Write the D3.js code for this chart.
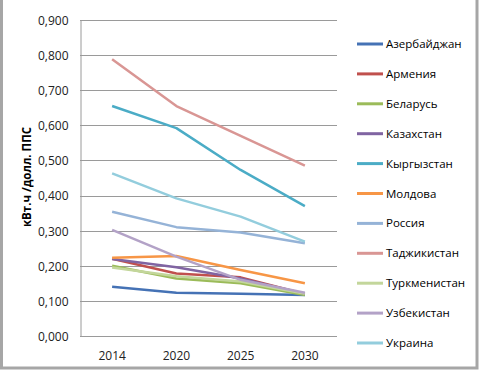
<!DOCTYPE html>
<html>
<head>
<meta charset="utf-8">
<script src="https://cdnjs.cloudflare.com/ajax/libs/d3/7.8.5/d3.min.js"></script>
<style>
  body { margin: 0; background: #fff; }
  text { font-family: "Open Sans", "Noto Sans", sans-serif; fill: #000; }
</style>
</head>
<body>
<script>
// categories and series
var years = ['2014', '2020', '2025', '2030'];
var countries = ['Азербайджан', 'Армения', 'Беларусь', 'Казахстан', 'Кыргызстан', 'Молдова',
                 'Россия', 'Таджикистан', 'Туркменистан', 'Узбекистан', 'Украина'];
var azerbaijan   = [0.140, 0.123, 0.120, 0.117];
var armenia      = [0.220, 0.178, 0.167, 0.120];
var belarus      = [0.200, 0.164, 0.150, 0.117];
var kazakhstan   = [0.219, 0.196, 0.164, 0.120];
var kyrgyzstan   = [0.655, 0.592, 0.473, 0.370];
var moldova      = [0.223, 0.228, 0.188, 0.150];
var russia       = [0.354, 0.310, 0.295, 0.264];
var tajikistan   = [0.788, 0.655, 0.570, 0.485];
var turkmenistan = [0.195, 0.170, 0.155, 0.120];
var uzbekistan   = [0.302, 0.226, 0.160, 0.123];
var ukraine      = [0.463, 0.392, 0.340, 0.269];
var yTicks = [0, 0.1, 0.2, 0.3, 0.4, 0.5, 0.6, 0.7, 0.8, 0.9];

var seriesValues = [azerbaijan, armenia, belarus, kazakhstan, kyrgyzstan, moldova,
                    russia, tajikistan, turkmenistan, uzbekistan, ukraine];
var colors = ['#4572b5', '#c0504d', '#9bbb59', '#8064a2', '#4bacc6', '#f79646',
              '#95b3d7', '#d99694', '#c3d69b', '#b3a2c7', '#93cddd'];

var W = 479, H = 378;
var plot = {left: 80, right: 337, top: 20, bottom: 336};

var svg = d3.select('body')
    .append('svg')
    .attr('width', W)
    .attr('height', H);

//outer frame
svg.append('rect')
    .attr('x', 1.5).attr('y', -4)
    .attr('width', 475.5).attr('height', 372)
    .style('fill', 'none')
    .style('stroke', '#a6a6a6')
    .style('stroke-width', 3);

var x = d3.scaleBand().domain(years).range([plot.left, plot.right]);
var y = d3.scaleLinear().domain([0, 0.9]).range([plot.bottom, plot.top]);

//gridlines
svg.append('g')
    .selectAll('line')
    .data(yTicks.slice(1))
    .enter().append('line')
    .attr('x1', plot.left).attr('x2', plot.right)
    .attr('y1', function (d) { return Math.round(y(d)) + 0.5; })
    .attr('y2', function (d) { return Math.round(y(d)) + 0.5; })
    .style('stroke', '#9a9a9a')
    .style('stroke-width', 1);

//y axis
var yAxis = svg.append('g')
    .attr('transform', 'translate(' + (plot.left + 0.5) + ',0.5)')
    .call(d3.axisLeft(y).tickValues(yTicks).tickSize(0).tickPadding(12)
        .tickFormat(function (d) { return d3.format('.3f')(d).replace('.', ','); }));
yAxis.select('.domain').style('stroke', '#9a9a9a');
yAxis.selectAll('text').style('font-size', '12px').style('fill', '#222');

//x axis
var xAxis = svg.append('g')
    .attr('transform', 'translate(0,' + (plot.bottom + 0.5) + ')')
    .call(d3.axisBottom(x).tickSize(0).tickPadding(15));
xAxis.select('.domain').attr('d', 'M' + plot.left + ',0H' + plot.right).style('stroke', '#9a9a9a');
xAxis.selectAll('text').style('font-size', '12px').style('fill', '#222');

//y title
svg.append('text')
    .attr('transform', 'translate(31,177) rotate(-90)')
    .attr('text-anchor', 'middle')
    .style('font-size', '11.5px')
    .style('font-weight', 'bold')
    .text('кВт.ч /долл. ППС');

//series lines
var line = d3.line()
    .x(function (d, i) { return x(years[i]) + x.bandwidth() / 2; })
    .y(function (d) { return y(d); });

svg.append('g')
    .selectAll('path')
    .data(seriesValues)
    .enter().append('path')
    .attr('d', line)
    .style('fill', 'none')
    .style('stroke', function (d, i) { return colors[i]; })
    .style('stroke-width', 2.5)
    .style('stroke-linejoin', 'round');

//legend
var legend = svg.append('g')
    .selectAll('g')
    .data(countries)
    .enter().append('g')
    .attr('transform', function (d, i) { return 'translate(357,' + (44 + i * 29.9) + ')'; });

legend.append('line')
    .attr('x1', 0).attr('x2', 26)
    .style('stroke', function (d, i) { return colors[i]; })
    .style('stroke-width', 3);

legend.append('text')
    .attr('x', 29)
    .attr('dy', '0.35em')
    .style('font-size', '11.5px')
    .text(function (d) { return d; });
</script>
</body>
</html>
